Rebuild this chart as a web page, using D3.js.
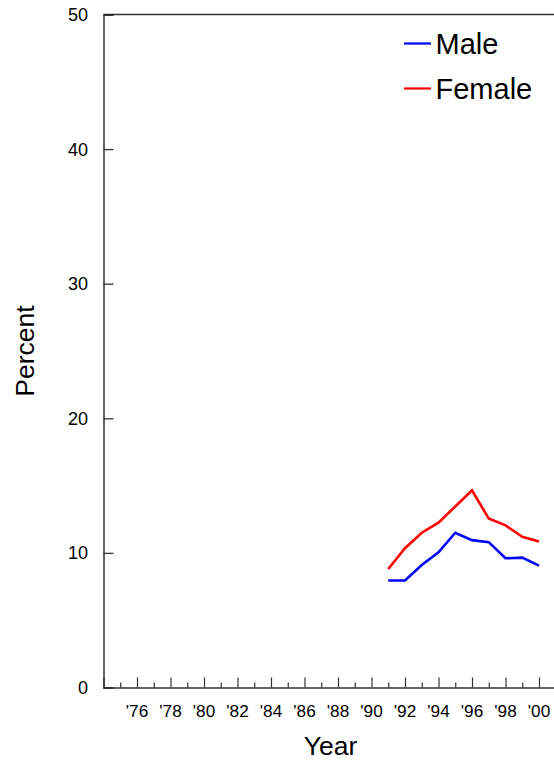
<!DOCTYPE html>
<html><head><meta charset="utf-8">
<script src="https://cdn.jsdelivr.net/npm/d3@7"></script>
<style>body{margin:0;background:#fff}svg{display:block}</style>
</head><body>
<svg id="c" width="554" height="762"></svg>
<script>
const years = [1991,1992,1993,1994,1995,1996,1997,1998,1999,2000];
const male = [7.95,7.95,9.1,10.05,11.5,10.95,10.8,9.6,9.65,9.05];
const female = [8.8,10.35,11.5,12.25,13.45,14.65,12.55,12.05,11.2,10.85];
const seriesNames = ["Male","Female"];
const seriesColors = ["#0000ff","#ff0000"];
const majorYears = [1976,1978,1980,1982,1984,1986,1988,1990,1992,1994,1996,1998,2000];
const minorYears = [1975,1977,1979,1981,1983,1985,1987,1989,1991,1993,1995,1997,1999,2001];
const yTicks = [0,10,20,30,40,50];

const svg = d3.select("#c");
const x = d3.scaleLinear().domain([1974, 2002]).range([103.5, 572.5]);
const y = d3.scaleLinear().domain([0, 50]).range([687.5, 14.5]);
const font = "Arial, 'Liberation Sans', sans-serif";

// frame: top line
svg.append("line").attr("x1", x(1974)).attr("x2", 554).attr("y1", y(50)).attr("y2", y(50))
  .attr("stroke", "#333").attr("stroke-width", 1.3);

// y axis
const yAxis = svg.append("g").attr("transform", `translate(${x(1974)},0)`)
  .call(d3.axisRight(y).tickValues(yTicks).tickSize(10).tickFormat(""));
yAxis.select(".domain").attr("stroke", "#111").attr("stroke-width", 1.3);
yAxis.selectAll(".tick line").attr("stroke", "#333").attr("stroke-width", 1.3);
svg.append("g").selectAll("text").data(yTicks).join("text")
  .attr("x", 88).attr("y", d => y(d)).attr("dy", "0.36em")
  .attr("text-anchor", "end").attr("font-family", font).attr("font-size", 18)
  .attr("fill", "#000").text(d => d);

// x axis
const xAxis = svg.append("g").attr("transform", `translate(0,${y(0)})`)
  .call(d3.axisTop(x).tickValues(majorYears).tickSize(10).tickFormat(""));
xAxis.select(".domain").attr("stroke", "#333").attr("stroke-width", 1.3);
xAxis.selectAll(".tick line").attr("stroke", "#333").attr("stroke-width", 1.2);
const xMinor = svg.append("g").attr("transform", `translate(0,${y(0)})`)
  .call(d3.axisTop(x).tickValues(minorYears).tickSize(5).tickFormat(""));
xMinor.select(".domain").remove();
xMinor.selectAll(".tick line").attr("stroke", "#333").attr("stroke-width", 1.2);
svg.append("g").selectAll("text").data(majorYears).join("text")
  .attr("x", d => x(d)).attr("y", 716.5)
  .attr("text-anchor", "middle").attr("font-family", font).attr("font-size", 17.2)
  .attr("fill", "#000").text(d => "'" + String(d).slice(2));

// axis titles
svg.append("text").attr("x", 330.5).attr("y", 755).attr("text-anchor", "middle")
  .attr("font-family", font).attr("font-size", 26.5).attr("fill", "#000").text("Year");
svg.append("text").attr("transform", "translate(34,351) rotate(-90)").attr("text-anchor", "middle")
  .attr("font-family", font).attr("font-size", 26.5).attr("fill", "#000").text("Percent");

// lines
const line = d3.line().x((d, i) => x(years[i])).y(d => y(d));
[male, female].forEach((s, k) => {
  svg.append("path").datum(s).attr("d", line).attr("fill", "none")
    .attr("stroke", seriesColors[k]).attr("stroke-width", 2.6)
    .attr("stroke-linejoin", "miter");
});

// legend
const legY = [43.5, 88.5];
seriesNames.forEach((n, k) => {
  svg.append("line").attr("x1", 404).attr("x2", 431).attr("y1", legY[k]).attr("y2", legY[k])
    .attr("stroke", seriesColors[k]).attr("stroke-width", 2.2);
  svg.append("text").attr("x", 435.5).attr("y", legY[k] + 10.5)
    .attr("font-family", font).attr("font-size", 29).attr("fill", "#000").text(n);
});
</script>
</body></html>
